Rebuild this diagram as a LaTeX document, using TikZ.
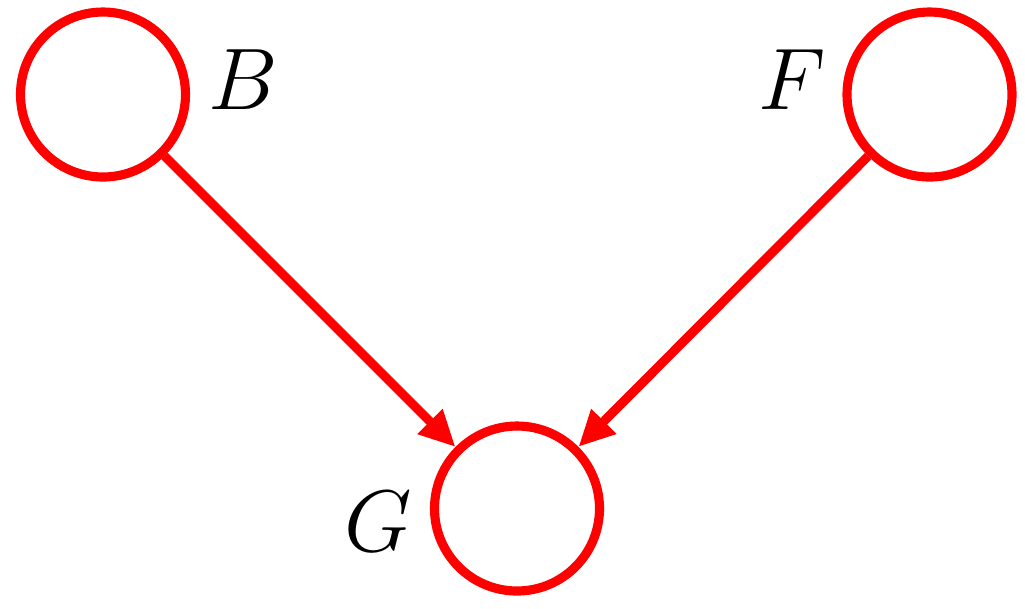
\documentclass[tikz,border=0pt]{standalone}
\usepackage{tikz}
\usetikzlibrary{arrows.meta,positioning}

\begin{document}
\begin{tikzpicture}[
  var/.style={draw=red, circle, line width=2.6pt, minimum size=16.5mm, inner sep=0pt},
  lbl/.style={font=\fontsize{23.7}{28}\selectfont, inner sep=0pt},
  arrow/.style={-{Triangle[length=3.6mm, width=3.3mm]}, draw=red, line width=2.6pt},
]
  \useasboundingbox (0,0) rectangle (10.25,-6.08);
  \node[var] (b) at (1.03,-0.945) {};
  \node[var] (f) at (9.295,-0.945) {};
  \node[var] (g) at (5.17,-5.085) {};
  \node[lbl] (blabel) at (2.43,-0.80) {$B$};
  \node[lbl] (flabel) at (7.92,-0.80) {$F$};
  \node[lbl] (glabel) at (3.78,-5.22) {$G$};
  \draw[arrow] (b) -- (g);
  \draw[arrow] (f) -- (g);
\end{tikzpicture}
\end{document}
